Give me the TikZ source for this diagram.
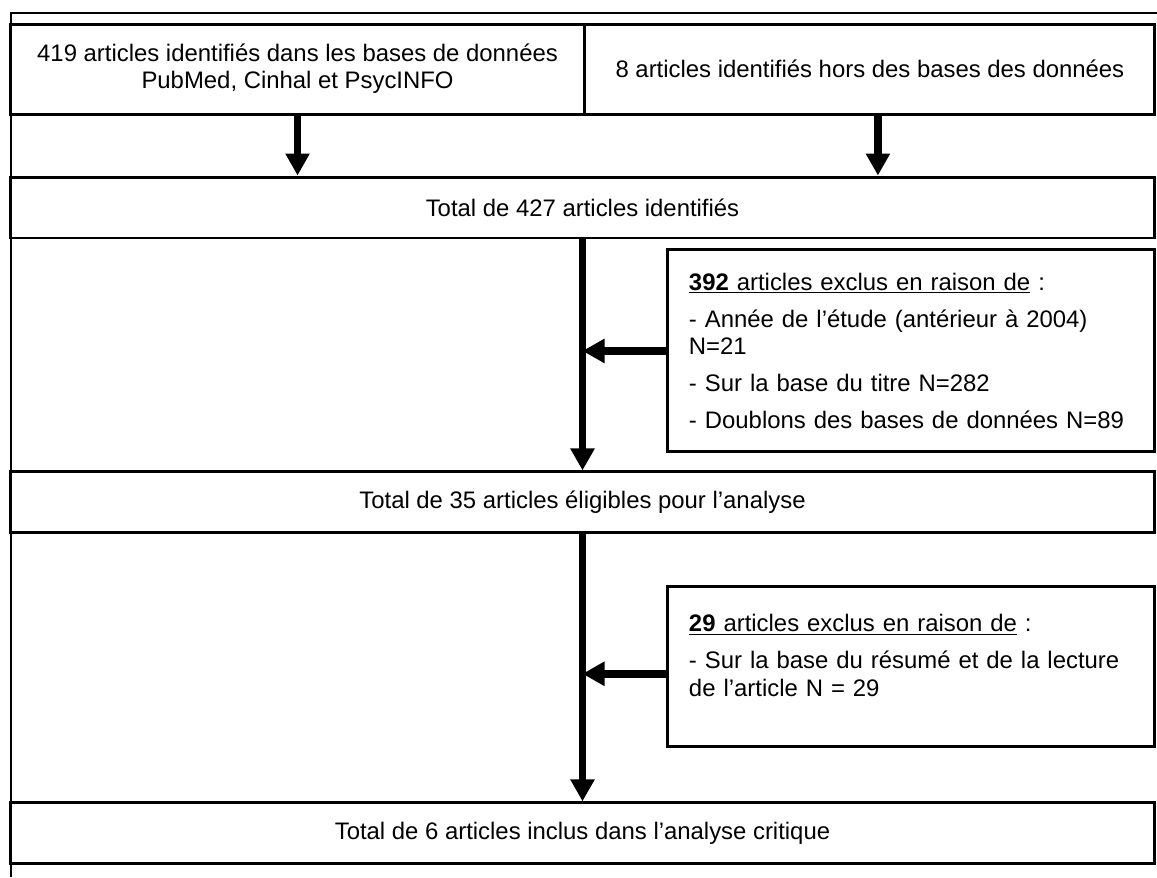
\documentclass[tikz,border=0pt]{standalone}
\usepackage{fontspec}
\setmainfont{Liberation Sans}
\usetikzlibrary{arrows.meta, positioning}
\tikzset{
    total/.style={rectangle, minimum width=22.9cm, minimum height=1.22cm, text centered, draw=black, line width=1.7pt},
    source/.style={rectangle, minimum height=1.8cm, align=center, draw=black, line width=1.7pt},
    exclusion/.style={rectangle, text width=8.9cm, inner xsep=0.42cm, align=left, draw=black, line width=1.7pt},
    arrow/.style={line width=4.3pt, -{Triangle[length=0.44cm, width=0.46cm]}},
    frame/.style={line width=0.9pt}
}

\begin{document}
\begin{tikzpicture}[x=0.02cm, y=-0.02cm, font=\fontsize{13.6}{15.5}\selectfont]
    \useasboundingbox (0,0) rectangle (1157,877);
    \draw [frame] (1157,13) -- (11,13) -- (11,877);

    \node (tot427) [total] at (582.5,207.5) {Total de 427 articles identifiés};
    \node (srcdb) [source, minimum width=11.5cm, above right=1.2cm and 0cm of tot427.north west] {419 articles identifiés dans les bases de données\\PubMed, Cinhal et PsycINFO};
    \node (srcout) [source, minimum width=11.4cm, right=-0.06cm of srcdb] {8 articles identifiés hors des bases des données};
    \node (excl1) [exclusion, minimum height=4.04cm, below left=0.18cm and 0cm of tot427.south east] {\underline{\textbf{392} articles exclus en raison de} :\\[5.7pt]
        - Année de l’étude (antérieur à 2004)\\N=21\\[5.7pt]
        - Sur la base du titre N=282\\[5.7pt]
        - Doublons des bases de données N=89};
    \node (tot35) [total, below=4.62cm of tot427] {Total de 35 articles éligibles pour l’analyse};
    \node (excl2) [exclusion, inner ysep=0.55cm, text depth=1.75cm, below left=1.02cm and 0cm of tot35.south east] {\underline{\textbf{29} articles exclus en raison de} :\\[5.7pt]
        - Sur la base du résumé et de la lecture\\de l’article N = 29};
    \node (tot6) [total, below=5.34cm of tot35] {Total de 6 articles inclus dans l’analyse critique};

    \draw [arrow] (srcdb.south) -- (srcdb.south |- tot427.north);
    \draw [arrow] ([xshift=0.16cm]srcout.south) -- ([xshift=0.16cm]srcout.south |- tot427.north);
    \draw [arrow] (tot427.south) -- (tot35.north);
    \draw [arrow] (excl1.west) -- (excl1.west -| tot427.south);
    \draw [arrow] (tot35.south) -- (tot6.north);
    \draw [arrow] ([yshift=-0.14cm]excl2.west) -- ([yshift=-0.14cm]excl2.west -| tot35.south);
\end{tikzpicture}
\end{document}
